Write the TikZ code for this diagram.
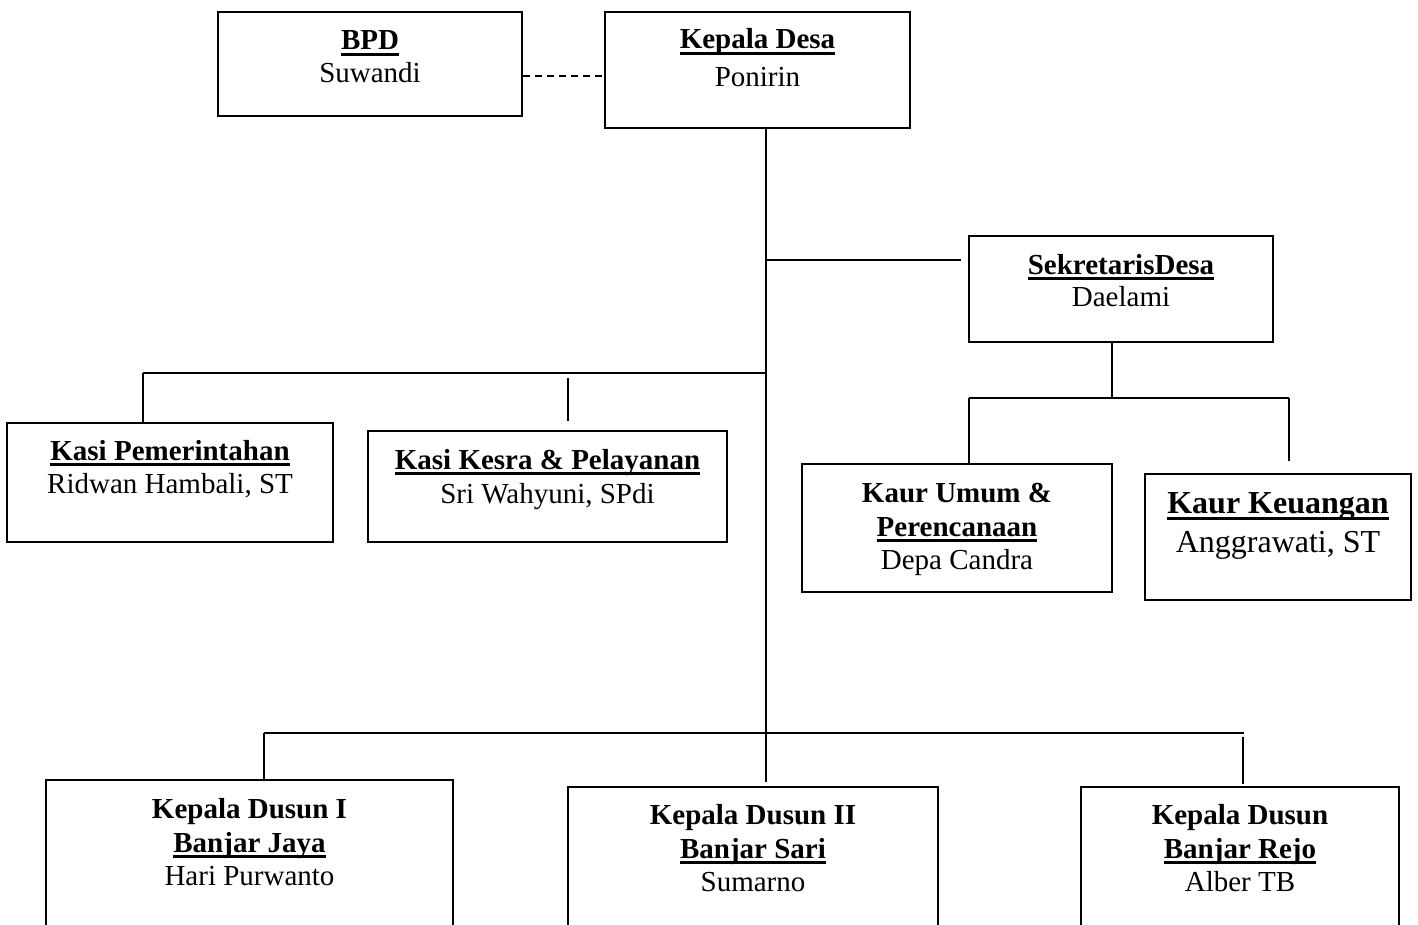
\documentclass[tikz,border=0pt]{standalone}
\usepackage{fontspec}
\setmainfont{Liberation Serif}
\newcommand\myul[1]{\setbox0\hbox{#1}\rlap{\rule[-0.21em]{\wd0}{0.09em}}\box0}
\begin{document}
\begin{tikzpicture}[x=1pt,y=-1pt,
  box/.style={draw,line width=1.6pt,inner sep=0pt},
  conn/.style={line width=1.8pt},
  dashconn/.style={line width=1.5pt,dash pattern=on 7pt off 5pt},
  txt/.style={anchor=base,inner sep=0pt,font=\fontsize{29}{34}\selectfont},
  bigtxt/.style={anchor=base,inner sep=0pt,font=\fontsize{32}{38}\selectfont}]
\clip (0,0) rectangle (1418,925);
\fill[white] (0,0) rectangle (1418,925);

% boxes
\node[box,minimum width=304pt,minimum height=104pt] (bpd) at (370,64) {};
\node[box,minimum width=305pt,minimum height=116pt] (kd) at (757.5,70) {};
\node[box,minimum width=304pt,minimum height=106pt] (sek) at (1121,289) {};
\node[box,minimum width=326pt,minimum height=119pt] (kpem) at (170,482.5) {};
\node[box,minimum width=359pt,minimum height=111pt] (kkes) at (547.5,486.5) {};
\node[box,minimum width=310pt,minimum height=128pt] (kum) at (957,528) {};
\node[box,minimum width=266pt,minimum height=126pt] (kkeu) at (1278,537) {};
\node[box,minimum width=407pt,minimum height=180pt] (dus1) at (249.5,870) {};
\node[box,minimum width=370pt,minimum height=173pt] (dus2) at (753,873.5) {};
\node[box,minimum width=318pt,minimum height=173pt] (dus3) at (1240,873.5) {};

% texts
\node[txt] (t1a) at (370,50) {\textbf{\myul{BPD}}};
\node[txt] (t1b) at (370,83) {Suwandi};
\node[txt] (t2a) at (757.5,49) {\textbf{\myul{Kepala Desa}}};
\node[txt] (t2b) at (757.5,87) {Ponirin};
\node[txt] (t3a) at (1121,274) {\textbf{\myul{SekretarisDesa}}};
\node[txt] (t3b) at (1121,306) {Daelami};
\node[txt] (t4a) at (170,460) {\textbf{\myul{Kasi Pemerintahan}}};
\node[txt] (t4b) at (170,493) {Ridwan Hambali, ST};
\node[txt] (t5a) at (547.5,469) {\textbf{\myul{Kasi Kesra \& Pelayanan}}};
\node[txt] (t5b) at (547.5,503) {Sri Wahyuni, SPdi};
\node[txt] (t6a) at (957,502) {\textbf{Kaur Umum \&}};
\node[txt] (t6b) at (957,536) {\textbf{\myul{Perencanaan}}};
\node[txt] (t6c) at (957,569) {Depa Candra};
\node[bigtxt] (t7a) at (1278,513) {\textbf{\myul{Kaur Keuangan}}};
\node[bigtxt] (t7b) at (1278,552) {Anggrawati, ST};
\node[txt] (t8a) at (249.5,818) {\textbf{Kepala Dusun I}};
\node[txt] (t8b) at (249.5,852) {\textbf{\myul{Banjar Jaya}}};
\node[txt] (t8c) at (249.5,885) {Hari Purwanto};
\node[txt] (t9a) at (753,824) {\textbf{Kepala Dusun II}};
\node[txt] (t9b) at (753,858) {\textbf{\myul{Banjar Sari}}};
\node[txt] (t9c) at (753,891) {Sumarno};
\node[txt] (t10a) at (1240,824) {\textbf{Kepala Dusun}};
\node[txt] (t10b) at (1240,858) {\textbf{\myul{Banjar Rejo}}};
\node[txt] (t10c) at (1240,891) {Alber TB};

% junction coordinates
\coordinate (top) at (766,128);
\coordinate (jsek) at (766,260);
\coordinate (jkasi) at (766,373);
\coordinate (jkasiL) at (143,373);
\coordinate (jdus) at (766,733);
\coordinate (jdusL) at (264,733);
\coordinate (jdusR) at (1244,733);
\coordinate (sekdown) at (1112,342);
\coordinate (jkaur) at (1112,398);
\coordinate (jkaurL) at (969,398);
\coordinate (jkaurR) at (1289,398);

% connectors
\draw[dashconn] ([yshift=-12pt]bpd.east) -- ([yshift=-12pt]bpd.east -| kd.west);
\draw[conn] (top) -- ([yshift=4pt]dus2.north -| top);
\draw[conn] (jsek) -- ([xshift=-7pt]jsek -| sek.west);
\draw[conn] (jkasiL) -- (jkasi);
\draw[conn] (jkasiL) -- (jkasiL |- kpem.north);
\draw[conn] (568,378) -- ([yshift=9pt]kkes.north -| 568,0);
\draw[conn] (jdusL) -- (jdusR);
\draw[conn] (jdusL) -- (jdusL |- dus1.north);
\draw[conn] (1243,737) -- ([yshift=2pt]dus3.north -| 1243,0);
\draw[conn] (sekdown |- sek.south) -- (jkaur);
\draw[conn] (jkaurL) -- (jkaurR);
\draw[conn] (jkaurL) -- (jkaurL |- kum.north);
\draw[conn] (jkaurR) -- ([yshift=12pt]jkaurR |- kkeu.north);
\end{tikzpicture}
\end{document}
